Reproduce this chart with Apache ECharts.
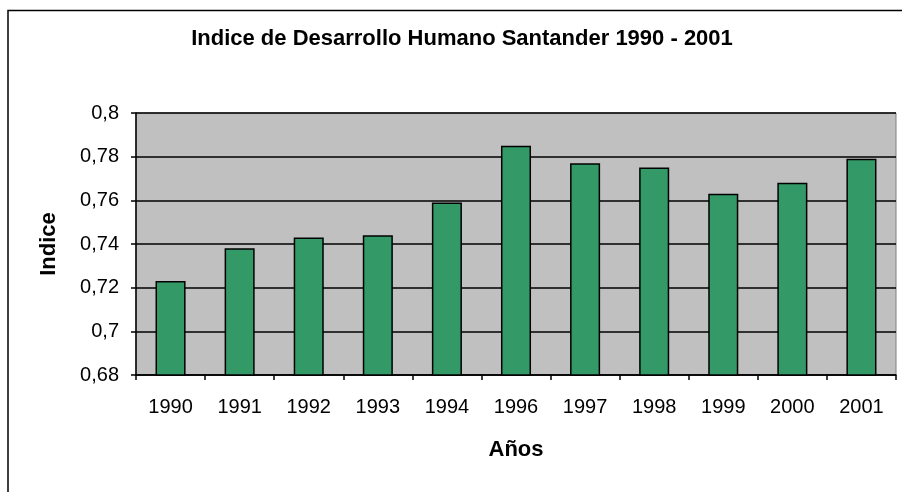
<!DOCTYPE html>
<html>

	<head>
		<meta charset="UTF-8">
		<title>Indice de Desarrollo Humano Santander</title>
		<style type="text/css">
			* {
				margin: 0;
				padding: 0;
			}
			body {
				background-color: #fff;
			}
			#chart {
				width: 902px;
				height: 492px;
			}
		</style>
	</head>

	<body>
		<div id="chart"></div>
	</body>
	<script src="https://cdn.jsdelivr.net/npm/echarts@6/dist/echarts.min.js" type="text/javascript" charset="utf-8"></script>
	<script type="text/javascript">
		// datos
		var years = ['1990', '1991', '1992', '1993', '1994', '1996', '1997', '1998', '1999', '2000', '2001'];
		var idh = [0.723, 0.738, 0.743, 0.744, 0.759, 0.785, 0.777, 0.775, 0.763, 0.768, 0.779];
		var yMin = 0.68;
		var yMax = 0.8;
		var yStep = 0.02;

		var fontName = 'Liberation Sans, Arial, sans-serif';
		var myChart = echarts.init(document.getElementById('chart'));

		var option = {
			animation: false,
			backgroundColor: '#fff',
			graphic: [{
					// marco exterior
					type: 'rect',
					shape: { x: 8, y: 10.5, width: 2000, height: 2000 },
					style: { fill: 'none', stroke: '#000', lineWidth: 1.5 },
					silent: true
				},
				{
					type: 'text',
					x: 462,
					y: 39,
					style: {
						text: 'Indice de Desarrollo Humano Santander 1990 - 2001',
						font: 'bold 22px ' + fontName,
						fill: '#000',
						align: 'center',
						verticalAlign: 'middle'
					}
				}
			],
			grid: {
				left: 136,
				top: 113,
				width: 760,
				height: 262,
				show: true,
				backgroundColor: '#c0c0c0',
				borderColor: '#808080',
				borderWidth: 1,
				outerBoundsMode: 'none'
			},
			xAxis: {
				type: 'category',
				data: years,
				name: 'Años',
				nameLocation: 'middle',
				nameGap: 64,
				nameTextStyle: { fontFamily: fontName, fontSize: 22, fontWeight: 'bold', color: '#000' },
				axisLine: { lineStyle: { color: '#000', width: 1.5 } },
				axisTick: { show: true, length: 5, inside: false, lineStyle: { color: '#000', width: 1.5 } },
				axisLabel: { fontFamily: fontName, fontSize: 20, color: '#000', margin: 22, interval: 0 }
			},
			yAxis: {
				type: 'value',
				min: yMin,
				max: yMax,
				interval: yStep,
				name: 'Indice',
				nameLocation: 'middle',
				nameGap: 76,
				nameTextStyle: { fontFamily: fontName, fontSize: 22, fontWeight: 'bold', color: '#000' },
				axisLine: { show: true, lineStyle: { color: '#000', width: 1.5 } },
				axisTick: { show: true, length: 5, lineStyle: { color: '#000', width: 1.5 } },
				axisLabel: {
					fontFamily: fontName,
					fontSize: 20,
					color: '#000',
					margin: 17,
					formatter: function(v) {
						return String(+v.toFixed(2)).replace('.', ',');
					}
				},
				splitLine: { show: true, lineStyle: { color: '#000', width: 1.5 } }
			},
			series: [{
				name: 'Indice',
				type: 'bar',
				data: idh,
				barCategoryGap: '56.5%',
				itemStyle: {
					color: '#339966',
					borderColor: '#000',
					borderWidth: 1.5
				}
			}]
		};

		myChart.setOption(option);
	</script>

</html>
